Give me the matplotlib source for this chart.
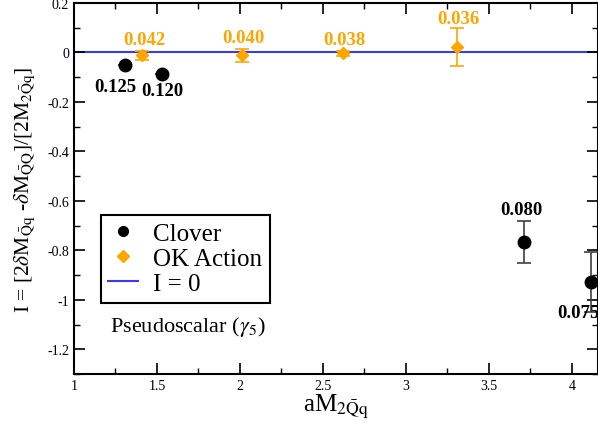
import numpy as np
import matplotlib
matplotlib.use("Agg")
import matplotlib.pyplot as plt
from matplotlib.ticker import MultipleLocator
from matplotlib.lines import Line2D

plt.rcParams['font.family'] = ['Liberation Serif', 'DejaVu Serif']
plt.rcParams['mathtext.fontset'] = 'stix'

# Clover (black circles)
clover_x = [1.307, 1.53, 3.711, 4.114]
clover_y = [-0.053, -0.089, -0.765, -0.928]
clover_err = [0.0, 0.0, 0.085, 0.122]
clover_lab = ['0.125', '0.120', '0.080', '0.075']

# OK action (orange diamonds)
ok_x = [1.41, 2.01, 2.62, 3.31]
ok_y = [-0.012, -0.012, -0.004, 0.02]
ok_err = [0.018, 0.026, 0.01, 0.077]
ok_lab = ['0.042', '0.040', '0.038', '0.036']

orange = '#ffa500'
blue = '#3a3af0'

fig = plt.figure(figsize=(5.98, 4.35), dpi=100)
ax = fig.add_axes([0.1237, 0.1379, 1.0 - 0.1237, 0.9913 - 0.1379])

ax.axhline(0, color=blue, lw=1.5, zorder=1)
ax.errorbar(clover_x, clover_y, yerr=clover_err, fmt='o', color='black',
            ecolor='#404040', elinewidth=1.2, capsize=5, capthick=1.2,
            markersize=9, zorder=3)
ax.errorbar(ok_x, ok_y, yerr=ok_err, fmt='D', color=orange, ecolor=orange,
            elinewidth=1.2, capsize=5, capthick=1.2, markersize=6, zorder=3)

# mass labels (offsets in points)
clov_off = [(-7, -15), (0, -12), (-2, 23), (-9, -22)]
for x, y, t, o in zip(clover_x, clover_y, clover_lab, clov_off):
    ax.annotate(t, (x, y), xytext=o, textcoords='offset points', ha='center',
                va='center', fontsize=13.5, fontweight='bold', color='black',
                annotation_clip=False)
ok_off = [(2, 11), (1, 13), (1, 10), (1, 21)]
for x, y, t, o in zip(ok_x, ok_y, ok_lab, ok_off):
    ax.annotate(t, (x, y), xytext=o, textcoords='offset points', ha='center',
                va='center', fontsize=13.5, fontweight='bold', color=orange)

ax.text(0.069, 0.13, r'Pseudoscalar ($\gamma_5$)', transform=ax.transAxes,
        fontsize=16, ha='left', va='center')

ax.set_xlim(1, 4.157)
ax.set_ylim(-1.3, 0.2)
ax.xaxis.set_minor_locator(MultipleLocator(0.25))
ax.yaxis.set_minor_locator(MultipleLocator(0.1))
ax.set_xticks([1, 1.5, 2, 2.5, 3, 3.5, 4])
ax.set_xticklabels(['1', '1.5', '2', '2.5', '3', '3.5', '4'])
ax.set_yticks([0.2, 0, -0.2, -0.4, -0.6, -0.8, -1, -1.2])
ax.set_yticklabels(['0.2', '0', '-0.2', '-0.4', '-0.6', '-0.8', '-1', '-1.2'])
ax.tick_params(which='both', direction='in', top=True, right=True, labelsize=10)
ax.tick_params(which='major', length=8, width=1.2)
ax.tick_params(which='minor', length=4, width=1.0)
for s in ax.spines.values():
    s.set_linewidth(1.5)

ax.set_xlabel(r'aM$_{2\bar{\mathrm{Q}}\mathrm{q}}$', fontsize=18, labelpad=0)
ax.set_ylabel(r'I = [2$\delta$M$_{\bar{\mathrm{Q}}\mathrm{q}}$ -$\delta$M$_{\bar{\mathrm{Q}}\mathrm{Q}}$]/[2M$_{2\bar{\mathrm{Q}}\mathrm{q}}$]',
              fontsize=15.5)
ax.yaxis.set_label_coords(-0.07, 0.5)

handles = [Line2D([], [], ls='none', marker='o', color='black', markersize=7),
           Line2D([], [], ls='none', marker='D', color=orange, markersize=6),
           Line2D([], [], color=blue, lw=1.5)]
leg = ax.legend(handles, ['Clover', 'OK Action', 'I = 0'],
                loc='upper left', bbox_to_anchor=(0.0515, 0.428),
                borderaxespad=0, fontsize=18, fancybox=False, framealpha=1,
                edgecolor='black', handlelength=1.2, handletextpad=0.6,
                labelspacing=0.1, borderpad=0.3)
leg.get_frame().set_linewidth(1.5)

fig.savefig('out.png', dpi=100)
